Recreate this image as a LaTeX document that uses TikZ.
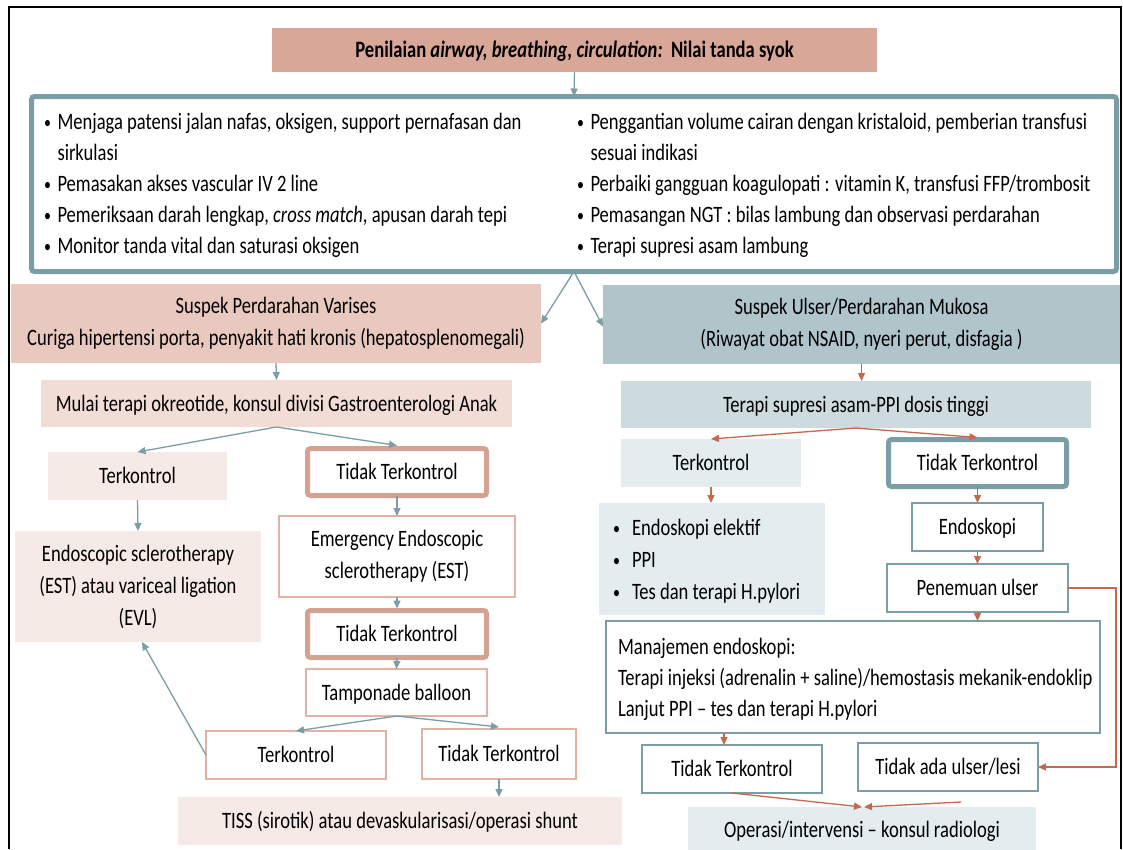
\documentclass[tikz,border=0pt]{standalone}
\usepackage{fontspec}
\setmainfont{Carlito}[FakeStretch=0.79]
\usetikzlibrary{arrows.meta}

\definecolor{salmon}{HTML}{D8A797}
\definecolor{salmonmid}{HTML}{E9C9BE}
\definecolor{salmonlt}{HTML}{F1DDD6}
\definecolor{salmonxl}{HTML}{F6EAE6}
\definecolor{salmonline}{HTML}{D4A291}
\definecolor{salmonthin}{HTML}{E0B3A4}
\definecolor{tealc}{HTML}{7B9EA6}
\definecolor{tealmid}{HTML}{AFC5CA}
\definecolor{teallt}{HTML}{CDDBDE}
\definecolor{tealxl}{HTML}{E3ECEE}
\definecolor{rust}{HTML}{C3694D}

\newcommand\dotmark{\raisebox{1pt}{\scalebox{0.75}{\textbullet}}}
\newcommand\bul{\makebox[13.5pt][l]{\dotmark}}
\newcommand\ind{\hspace*{13.5pt}}
\newcommand\bulr{\makebox[19pt][l]{\dotmark}}
\newcommand\topline{\rule{0pt}{20pt}}

\tikzset{
  every node/.style={inner sep=0pt, outer sep=0pt},
  txt/.style={font=\fontsize{23.5}{32}\selectfont},
  box/.style={rectangle, txt, align=center},
  oneline/.style={text height=15pt, text depth=0pt},
  thickS/.style={draw=salmonline, line width=5pt, rounded corners=3pt, fill=white},
  thinS/.style={draw=salmonthin, line width=1.5pt, fill=white},
  thickT/.style={draw=tealc, line width=5pt, rounded corners=3pt, fill=white},
  thinT/.style={draw=tealc, line width=1.5pt, fill=white},
  tarrow/.style={-{Triangle[length=8pt,width=7pt]}, line width=1.3pt, draw=tealc},
  rarrow/.style={-{Triangle[length=8pt,width=7pt]}, line width=1.3pt, draw=rust},
}

\begin{document}
\begin{tikzpicture}[x=1pt,y=-1pt]
\useasboundingbox (0,0) rectangle (1123,849);
\fill[white] (0,0) rectangle (1123,849);

% outer frame
\draw[line width=2pt, black] (9,849) -- (9,7) -- (1121,7) -- (1121,849);

% header
\node[box, oneline, fill=salmon, minimum width=605, minimum height=44] (title) at (574.5,50)
  {\bfseries Penilaian \textit{airway, breathing, circulation:}\ \ Nilai tanda syok};

% initial management box
\node[draw=tealc, line width=5pt, rounded corners=3pt, fill=white,
      minimum width=1085, minimum height=175] (big) at (574,184) {};
\node[anchor=north west, align=left, font=\fontsize{23.5}{31.2}\selectfont] (colL) at (44,109)
  {\topline\bul Menjaga patensi jalan nafas, oksigen, support pernafasan dan\\
   \ind sirkulasi\\
   \bul Pemasakan akses vascular IV 2 line\\
   \bul Pemeriksaan darah lengkap, \textit{cross match}, apusan darah tepi\\
   \bul Monitor tanda vital dan saturasi oksigen};
\node[anchor=north west, align=left, font=\fontsize{23.5}{31.2}\selectfont] (colR) at (577,109)
  {\topline\bul Penggantian volume cairan dengan kristaloid, pemberian transfusi\\
   \ind sesuai indikasi\\
   \bul Perbaiki gangguan koagulopati : vitamin K, transfusi FFP/trombosit\\
   \bul Pemasangan NGT : bilas lambung dan observasi perdarahan\\
   \bul Terapi supresi asam lambung};

% ---- variceal branch ----
\node[box, fill=salmonmid, minimum width=530, minimum height=79] (suspL) at (276,323.5)
  {Suspek Perdarahan Varises\\Curiga hipertensi porta, penyakit hati kronis (hepatosplenomegali)};
\node[box, oneline, fill=salmonlt, minimum width=471, minimum height=47] (mulai) at (276.5,403.5)
  {Mulai terapi okreotide, konsul divisi Gastroenterologi Anak};
\node[box, oneline, fill=salmonxl, minimum width=179, minimum height=48] (terkL) at (137.5,476) {Terkontrol};
\node[box, fill=salmonxl, minimum width=246, minimum height=111] (evl) at (138,586.5)
  {Endoscopic sclerotherapy\\(EST) atau variceal ligation\\(EVL)};
\node[box, oneline, thickS, minimum width=179, minimum height=47] (tidak1) at (397,472) {Tidak Terkontrol};
\node[box, thinS, minimum width=236, minimum height=81] (emer) at (397,556.5)
  {Emergency Endoscopic\\sclerotherapy (EST)};
\node[box, oneline, thickS, minimum width=179, minimum height=47] (tidak2) at (397,634) {Tidak Terkontrol};
\node[box, oneline, thinS, minimum width=181, minimum height=47] (tamp) at (396.5,692.5) {Tamponade balloon};
\node[box, oneline, thinS, minimum width=180, minimum height=48] (terk3) at (296,755) {Terkontrol};
\node[box, oneline, thinS, minimum width=154, minimum height=50] (tidak3) at (499,754) {Tidak Terkontrol};
\node[box, oneline, fill=salmonxl, minimum width=444, minimum height=48] (tiss) at (400,821)
  {TISS (sirotik) atau devaskularisasi/operasi shunt};

% ---- ulcer branch ----
\node[box, fill=tealmid, minimum width=517, minimum height=79] (suspR) at (861.5,324.5)
  {Suspek Ulser/Perdarahan Mukosa\\(Riwayat obat NSAID, nyeri perut, disfagia )};
\node[box, oneline, fill=teallt, minimum width=470, minimum height=47] (ppi) at (856,404.5)
  {Terapi supresi asam-PPI dosis tinggi};
\node[box, oneline, fill=tealxl, minimum width=180, minimum height=48] (terkR) at (711,463) {Terkontrol};
\node[box, oneline, thickT, minimum width=178, minimum height=47] (tidakR) at (977.5,463) {Tidak Terkontrol};
\node[box, fill=tealxl, minimum width=226, minimum height=112] (elek) at (712,559) {};
\node[anchor=north west, align=left, font=\fontsize{23.5}{32}\selectfont] (elektxt) at (613,515)
  {\topline\bulr Endoskopi elektif\\\bulr PPI\\\bulr Tes dan terapi H.pylori};
\node[box, oneline, thinT, minimum width=131, minimum height=48] (endo) at (977.5,527) {Endoskopi};
\node[box, oneline, thinT, minimum width=181, minimum height=48] (pen) at (977.5,588) {Penemuan ulser};
\node[box, thinT, minimum width=494, minimum height=112] (man) at (853,677) {};
\node[anchor=north west, align=left, font=\fontsize{23.5}{31}\selectfont] (mantxt) at (618,634)
  {\topline Manajemen endoskopi:\\Terapi injeksi (adrenalin + saline)/hemostasis mekanik-endoklip\\Lanjut PPI -- tes dan terapi H.pylori};
\node[box, oneline, thinT, minimum width=180, minimum height=48] (tidakM) at (732,769) {Tidak Terkontrol};
\node[box, oneline, thinT, minimum width=180, minimum height=48] (tidakada) at (948,767) {Tidak ada ulser/lesi};
\node[box, oneline, fill=tealxl, minimum width=348, minimum height=46] (op) at (862,830)
  {Operasi/intervensi -- konsul radiologi};

% ---- connectors ----
\draw[tarrow] (title.south) -- (big.north);
\draw[tarrow] (big.south) -- (suspL.east);
\draw[tarrow] (big.south) -- ([yshift=-2]suspR.west);

\draw[tarrow] (suspL.south) -- (mulai.north);
\draw[tarrow] (mulai.south) -- (terkL.north);
\draw[tarrow] (mulai.south) -- ([yshift=3]tidak1.north);
\draw[tarrow] (terkL.south) -- (evl.north);
\draw[tarrow] (tidak1.south) -- (emer.north);
\draw[tarrow] (emer.south) -- ([yshift=2]tidak2.north);
\draw[tarrow] (tidak2.south) -- (tamp.north);
\draw[tarrow] (tamp.south) -- (terk3.north);
\draw[tarrow] (tamp.south) -- ([yshift=2]tidak3.north);
\draw[tarrow] (terk3.west) -- ([xshift=4]evl.south);
\draw[tarrow] (tidak3.south) -- (tidak3.south |- tiss.north);

\draw[rarrow] (suspR.south) -- (suspR.south |- ppi.north);
\draw[rarrow] (ppi.south) -- (terkR.north);
\draw[rarrow] (ppi.south) -- ([yshift=2]tidakR.north);
\draw[rarrow] (terkR.south) -- (terkR.south |- elek.north);
\draw[rarrow] (tidakR.south) -- (endo.north);
\draw[rarrow] (endo.south) -- (pen.north);
\draw[rarrow] (pen.south) -- (pen.south |- man.north);
\draw[rarrow] (pen.east) -- ++(48,0) |- (tidakada.east);
\draw[rarrow] ([xshift=-8]tidakM.north |- man.south) -- ([xshift=-8]tidakM.north);
\draw[rarrow] (tidakM.south) -- (op.north);
\draw[rarrow] ([xshift=13,yshift=-11]tidakada.south) -- ([xshift=2]op.north);
\end{tikzpicture}
\end{document}
